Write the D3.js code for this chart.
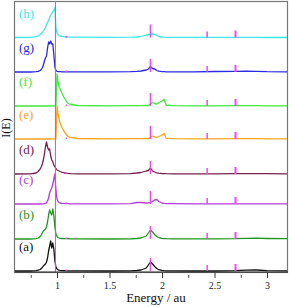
<!DOCTYPE html>
<html>
<head>
<meta charset="utf-8">
<script src="https://cdn.jsdelivr.net/npm/d3@7"></script>
<style>
  body { margin: 0; background: #fff; }
  svg { display: block; }
  svg text { font-family: "Liberation Serif", "DejaVu Serif", "Times New Roman", serif; }
</style>
</head>
<body>
<svg class="chart"></svg>
<script>
const width = 289, height = 307;
const serif = "'Liberation Serif', 'DejaVu Serif', serif";

// shared energy grid (au)
const energy = [0.6, 0.75, 0.8, 0.82, 0.84, 0.85, 0.86, 0.87, 0.88, 0.89,
  0.9, 0.91, 0.92, 0.93, 0.94, 0.95, 0.96, 0.97, 0.98, 0.99,
  1.0, 1.01, 1.02, 1.03, 1.05, 1.07, 1.1, 1.13, 1.2, 1.5,
  1.7, 1.76, 1.8, 1.85, 1.87, 1.89, 1.91, 1.93, 1.95, 1.97,
  2.0, 2.02, 2.04, 2.1, 2.3, 2.5, 2.7, 2.8, 2.9, 3.0, 3.2];

const seriesA = [0, 0, 0.3, 0.8, 1.5, 2.5, 3.5, 5, 6, 7,
  9, 13, 20, 25, 30, 23, 28, 22, 10, 4,
  2, 1.2, 0.8, 0.6, 0.4, 0.3, 0.2, 0.2, 0.1, 0,
  0.2, 0.5, 1, 3, 6, 9, 7, 4.5, 2.5, 1.3,
  0.6, 0.3, 0.2, 0.1, 0, 0, 0.3, 0.8, 1, 0.4, 0.1];
const seriesB = [0, 0, 0.3, 1, 2.5, 4, 6, 8, 9, 10,
  12, 17, 24, 29, 26, 24, 30, 23, 12, 5,
  2.5, 1.5, 1, 0.7, 0.5, 0.4, 0.3, 0.2, 0.1, 0,
  0.2, 0.5, 1, 3, 6, 9, 7, 4.5, 2.5, 1.3,
  0.6, 0.4, 0.3, 0.2, 0.1, 0.1, 0.3, 0.7, 0.8, 0.5, 0.3];
const seriesC = [0, 0, 0, 0, 0, 0, 0.1, 0.2, 0.4, 0.7,
  1.2, 3, 6, 11, 14, 16, 20, 25, 30, 14,
  5, 2.5, 1.5, 1, 0.6, 0.4, 0.3, 0.2, 0.1, 0.1,
  0.4, 1.5, 1.5, 1, 1.2, 1.6, 2.5, 4, 4.5, 2.5,
  1, 0.6, 0.4, 0.3, 0.2, 0.1, 0.1, 0.2, 0.2, 0.1, 0.1];
const seriesD = [0, 0.2, 1, 2.5, 5, 7, 10, 14, 20, 27,
  32, 27, 24, 25, 18, 14, 12, 9, 7, 5.5,
  4, 3.5, 3, 2.5, 1.7, 1, 0.6, 0.4, 0.2, 0.1,
  0.4, 1, 1.5, 3, 3.5, 6, 3, 2, 1.2, 0.8,
  0.5, 0.4, 0.3, 0.2, 0.1, 0.1, 0.3, 0.4, 0.4, 0.3, 0.2];
const seriesE = [0, 0, 0, 0, 0, 0, 0, 0, 0, 0,
  0, 0, 0, 0, 0, 0.1, 0.1, 0.1, 0.2, 0.5,
  33, 25, 20, 16, 11, 7, 3, 1.3, 0.5, 0.2,
  0.3, 0.3, 0.4, 0.5, 0.5, 1.5, 3, 2.2, 1.5, 2.5,
  4, 5.5, 0.8, 0.3, 0.2, 0.2, 0.3, 0.4, 0.3, 0.2, 0.2];
const seriesF = [0, 0, 0, 0, 0, 0, 0, 0, 0, 0,
  0, 0, 0, 0, 0, 0.1, 0.1, 0.1, 0.2, 0.5,
  32, 24, 19, 17, 12, 8, 3, 1.5, 0.5, 0.2,
  0.3, 0.3, 0.4, 0.5, 0.5, 2, 3.5, 2.5, 2, 3.5,
  5, 6.5, 1, 0.3, 0.2, 0.2, 0.3, 0.4, 0.3, 0.2, 0.2];
const seriesG = [0, 0, 0.3, 0.7, 1.5, 2.5, 4, 7, 11, 14,
  16, 24, 30, 28, 31, 28, 28, 17, 5, 1.5,
  0.7, 0.4, 0.3, 0.3, 0.2, 0.2, 0.2, 0.2, 0.1, 0.1,
  0.3, 0.6, 1, 2, 3, 5.5, 3.5, 3, 1.5, 0.8,
  0.4, 0.3, 0.2, 0.1, 0.1, 0.5, 0.6, 0.8, 0.7, 0.3, 0.1];
const seriesH = [0, 0.2, 0.8, 1.5, 3, 4, 5, 6.5, 8, 10,
  13, 15, 17, 20, 22, 24, 26, 27, 30, 10,
  4, 3, 2, 1.5, 1, 0.7, 0.5, 0.4, 0.3, 0.2,
  0.3, 0.5, 1, 2.5, 3, 3, 3.5, 3, 2, 1,
  0.5, 0.3, 0.2, 0.1, 0.1, 0.1, 0.2, 0.2, 0.1, 0, 0];

const panelNames = ["(a)", "(b)", "(c)", "(d)", "(e)", "(f)", "(g)", "(h)"];
const panelValues = [seriesA, seriesB, seriesC, seriesD, seriesE, seriesF, seriesG, seriesH];
const panelOffsets = [0, 32, 67, 97, 132, 165, 199, 233.5];
const panelColors = ["#111111", "#1f961f", "#b23ed8", "#76214f", "#ffa31c", "#3ee83e", "#2a2ae0", "#3ee6e6"];

// reference energies marked in every panel, and their tick heights
const markerEnergy = [1.09, 1.89, 2.43, 2.70];
const markerHeight = [1.5, 13, 6, 7];
const refLineEnergy = 0.985;

const xTicks = [1, 1.5, 2, 2.5, 3];
const xMinorTicks = [0.75, 1.25, 1.75, 2.25, 2.75];

const plotLeft = 15, plotRight = 287, plotTop = 1, plotBottom = 272;

let x = d3.scaleLinear()
  .domain([0.6, 0.6 + (plotRight - plotLeft) / 105])
  .range([plotLeft, plotRight]);
let y = d3.scaleLinear()
  .domain([0, 270])
  .range([271, 1]);

let chart = d3.select(".chart")
  .attr("width", width)
  .attr("height", height);

chart.append("clipPath").attr("id", "plot")
  .append("rect")
  .attr("x", plotLeft).attr("y", plotTop)
  .attr("width", plotRight - plotLeft).attr("height", plotBottom - plotTop);

// frame
chart.append("rect")
  .attr("x", plotLeft - 0.5).attr("y", plotTop + 0.5)
  .attr("width", plotRight - plotLeft + 1).attr("height", plotBottom - plotTop)
  .attr("fill", "none")
  .attr("stroke", "#777")
  .attr("stroke-width", 1.2);

let plot = chart.append("g").attr("clip-path", "url(#plot)");

let line = d3.line()
  .x(d => x(d[0]))
  .y(d => y(d[1]));

panelValues.forEach((vals, i) => {
  let pts = energy.map((e, j) => [e, panelOffsets[i] + vals[j]]);
  plot.append("path")
    .attr("d", line(pts))
    .attr("fill", "none")
    .attr("stroke", panelColors[i])
    .attr("stroke-width", 1.3)
    .attr("stroke-linejoin", "round");

  markerEnergy.forEach((e, k) => {
    plot.append("line")
      .attr("x1", x(e)).attr("x2", x(e))
      .attr("y1", y(panelOffsets[i]))
      .attr("y2", y(panelOffsets[i] + markerHeight[k]))
      .attr("stroke", "#f048f0")
      .attr("stroke-width", k === 3 ? 2 : 1.5);
  });

  chart.append("text")
    .attr("x", 19)
    .attr("y", y(panelOffsets[i] + 20))
    .attr("fill", panelColors[i])
    .attr("font-family", serif)
    .attr("font-size", 13)
    .text(panelNames[i]);
});

plot.append("line")
  .attr("x1", x(refLineEnergy)).attr("x2", x(refLineEnergy))
  .attr("y1", plotTop).attr("y2", plotBottom)
  .attr("stroke", "#e83ee8")
  .attr("stroke-width", 1);

// x axis
let xAxis = d3.axisBottom(x)
  .tickValues(xTicks)
  .tickFormat(d => d)
  .tickSize(5)
  .tickPadding(4);
let ax = chart.append("g")
  .attr("transform", `translate(0, ${plotBottom + 1})`)
  .attr("font-family", serif)
  .call(xAxis);
ax.attr("font-family", serif);
ax.select(".domain").remove();
ax.selectAll(".tick line").attr("stroke", "#333");
ax.selectAll("text")
  .attr("font-family", serif)
  .attr("font-size", 10)
  .attr("fill", "#222");

let minor = chart.append("g")
  .attr("transform", `translate(0, ${plotBottom + 3})`)
  .call(d3.axisBottom(x).tickValues(xMinorTicks).tickSize(3).tickFormat(""));
minor.select(".domain").remove();
minor.selectAll(".tick line").attr("stroke", "#555");

chart.append("line")
  .attr("x1", plotLeft).attr("x2", plotRight + 1)
  .attr("y1", plotBottom).attr("y2", plotBottom)
  .attr("stroke", "#222").attr("stroke-width", 1.2);

chart.append("text")
  .attr("x", 156)
  .attr("y", 302)
  .attr("text-anchor", "middle")
  .attr("font-family", serif)
  .attr("font-size", 13)
  .attr("fill", "#111")
  .text("Energy / au");

chart.append("text")
  .attr("transform", "translate(10, 128) rotate(-90)")
  .attr("text-anchor", "middle")
  .attr("font-family", serif)
  .attr("font-size", 12)
  .attr("fill", "#111")
  .text("I(E)");
</script>
</body>
</html>
